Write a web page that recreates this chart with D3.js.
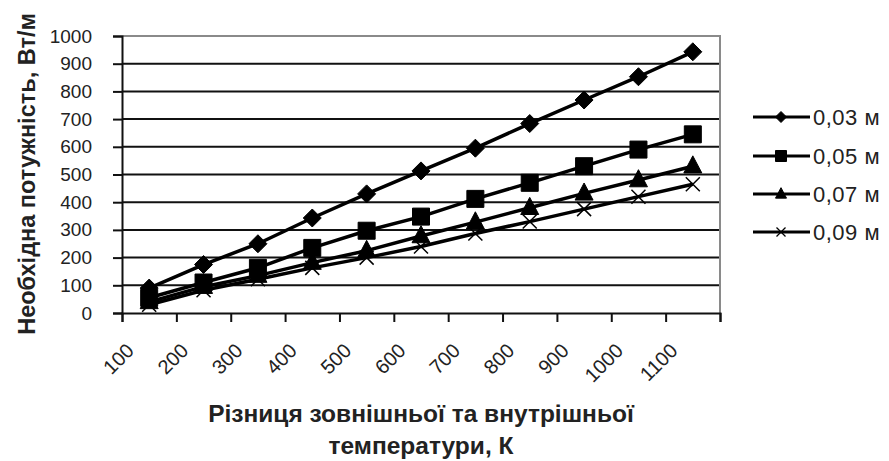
<!DOCTYPE html>
<html>
<head>
<meta charset="utf-8">
<script src="https://cdn.jsdelivr.net/npm/d3@7"></script>
<style>
  html, body { margin: 0; padding: 0; background: #fff; }
  svg { display: block; font-family: "Liberation Sans", Arial, sans-serif; }
</style>
</head>
<body>
<svg id="chart" width="889" height="461"></svg>
<script>
// Temperature difference categories, K
const categories = ["100", "200", "300", "400", "500", "600", "700", "800", "900", "1000", "1100"];

// Required heating power, W/m, per pipe insulation thickness
const power003 = [90, 175, 250, 343, 430, 513, 595, 684, 769, 853, 943];
const power005 = [55, 110, 163, 235, 297, 348, 412, 470, 530, 590, 645];
const power007 = [40, 95, 135, 182, 225, 278, 328, 380, 432, 480, 530];
const power009 = [30, 82, 122, 163, 200, 240, 287, 330, 375, 420, 465];

const seriesNames = ["0,03 м", "0,05 м", "0,07 м", "0,09 м"];
const seriesSymbols = ["diamond", "square", "triangle", "cross"];
const yTicks = [0, 100, 200, 300, 400, 500, 600, 700, 800, 900, 1000];

const yTitle = "Необхідна потужність, Вт/м";
const xTitleLines = ["Різниця зовнішньої та внутрішньої", "температури, К"];

const series = [power003, power005, power007, power009].map((vals, i) => ({
  name: seriesNames[i],
  symbol: seriesSymbols[i],
  values: vals
}));

const svg = d3.select("#chart");
const plot = { left: 122, right: 720, top: 36, bottom: 313 };

const x = d3.scaleBand().domain(categories).range([plot.left, plot.right]);
const y = d3.scaleLinear().domain([0, 1000]).range([plot.bottom, plot.top]);
const cx = c => x(c) + x.bandwidth() / 2;

// Horizontal gridlines
svg.append("g")
  .selectAll("line")
  .data(yTicks.filter(v => v > 0 && v < 1000))
  .join("line")
  .attr("x1", plot.left).attr("x2", plot.right)
  .attr("y1", d => y(d)).attr("y2", d => y(d))
  .attr("stroke", "#111").attr("stroke-width", 2);

// Plot frame: top and right edges in grey
svg.append("path")
  .attr("d", `M${plot.left},${y(1000)}H${plot.right}V${plot.bottom}`)
  .attr("fill", "none").attr("stroke", "#8a8a8a").attr("stroke-width", 2);

// Y axis
const yAxis = svg.append("g")
  .attr("transform", `translate(${plot.left},0)`)
  .call(d3.axisLeft(y).tickValues(yTicks).tickSize(9).tickPadding(21).tickFormat(d3.format("d")));
yAxis.select(".domain").attr("stroke", "#111").attr("stroke-width", 2);
yAxis.selectAll(".tick line").attr("stroke", "#111").attr("stroke-width", 2);
yAxis.selectAll(".tick text")
  .attr("font-size", 19).attr("fill", "#222")
  .attr("font-family", "'Liberation Sans', Arial, sans-serif");

// X axis: tick marks on category boundaries
const xb = d3.scaleLinear().domain([0, categories.length]).range([plot.left, plot.right]);
const xAxis = svg.append("g")
  .attr("transform", `translate(0,${plot.bottom})`)
  .call(d3.axisBottom(xb).tickValues(d3.range(0, categories.length + 1)).tickSize(9).tickFormat(""));
xAxis.select(".domain").attr("stroke", "#111").attr("stroke-width", 2);
xAxis.selectAll(".tick line").attr("stroke", "#111").attr("stroke-width", 2);

// Rotated category labels
svg.append("g")
  .selectAll("text")
  .data(categories)
  .join("text")
  .attr("transform", d => `translate(${cx(d) - 19},${347}) rotate(-45)`)
  .attr("text-anchor", "end")
  .attr("dy", "0.35em")
  .attr("font-size", 20)
  .attr("fill", "#222")
  .text(d => d);

// Marker shapes
const symbolPath = {
  diamond: s => `M0,${-s}L${s},0L0,${s}L${-s},0Z`,
  square: s => `M${-s},${-s}H${s}V${s}H${-s}Z`,
  triangle: s => `M0,${-s * 1.15}L${s},${s * 0.75}L${-s},${s * 0.75}Z`,
  cross: s => `M${-s},${-s}L${s},${s}M${s},${-s}L${-s},${s}`
};
const markerSize = { diamond: 9, square: 8.5, triangle: 9, cross: 7 };

const line = d3.line()
  .x((d, i) => cx(categories[i]))
  .y(d => y(d));

const seriesG = svg.append("g")
  .selectAll("g")
  .data(series)
  .join("g");

seriesG.append("path")
  .attr("d", d => line(d.values))
  .attr("fill", "none")
  .attr("stroke", "#000")
  .attr("stroke-width", 3.5)
  .attr("stroke-linejoin", "round");

seriesG.each(function (s) {
  d3.select(this).selectAll("path.mark")
    .data(s.values)
    .join("path")
    .attr("class", "mark")
    .attr("transform", (d, i) => `translate(${cx(categories[i])},${y(d)})`)
    .attr("d", symbolPath[s.symbol](markerSize[s.symbol]))
    .attr("fill", s.symbol === "cross" ? "none" : "#000")
    .attr("stroke", "#000")
    .attr("stroke-width", s.symbol === "cross" ? 1.5 : 1);
});

// Legend
const legendY = [117, 156, 194, 232];
const legend = svg.append("g")
  .selectAll("g")
  .data(series)
  .join("g")
  .attr("transform", (d, i) => `translate(0,${legendY[i]})`);
legend.append("line")
  .attr("x1", 753).attr("x2", 810)
  .attr("stroke", "#000").attr("stroke-width", 3);
legend.append("path")
  .attr("transform", "translate(781,0)")
  .attr("d", d => symbolPath[d.symbol](d.symbol === "cross" ? 4.5 : 5.5))
  .attr("fill", d => d.symbol === "cross" ? "none" : "#000")
  .attr("stroke", "#000")
  .attr("stroke-width", d => d.symbol === "cross" ? 1.3 : 1);
legend.append("text")
  .attr("x", 813)
  .attr("dy", "0.35em")
  .attr("font-size", 22)
  .attr("letter-spacing", 0.5)
  .attr("fill", "#222")
  .text(d => d.name);

// Axis titles
svg.append("text")
  .attr("transform", `translate(27,174) rotate(-90)`)
  .attr("text-anchor", "middle")
  .attr("dy", "0.35em")
  .attr("font-size", 23.5)
  .attr("font-weight", "bold")
  .attr("fill", "#222")
  .text(yTitle);

svg.append("g")
  .selectAll("text")
  .data(xTitleLines)
  .join("text")
  .attr("x", (plot.left + plot.right) / 2)
  .attr("y", (d, i) => 413 + i * 32)
  .attr("dy", "0.35em")
  .attr("text-anchor", "middle")
  .attr("font-size", 24.5)
  .attr("font-weight", "bold")
  .attr("fill", "#222")
  .text(d => d);
</script>
</body>
</html>
